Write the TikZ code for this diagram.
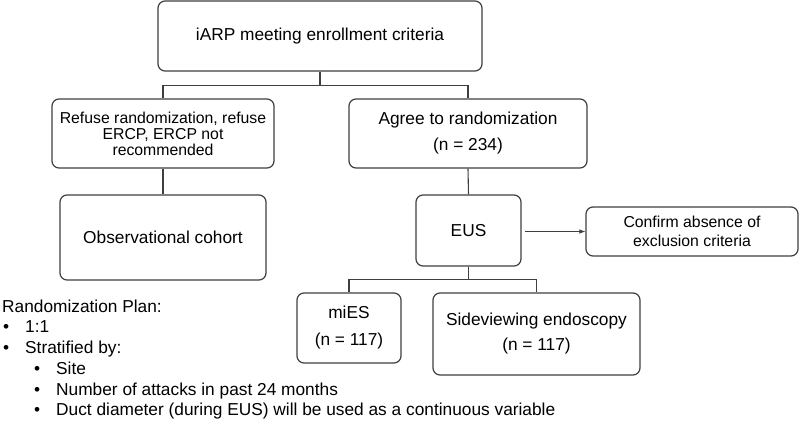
\documentclass[tikz,border=0pt]{standalone}
\usepackage{fontspec}
\setmainfont{Liberation Sans}
\usetikzlibrary{arrows.meta}
\definecolor{ln}{HTML}{3F3F3F}
\begin{document}
\begin{tikzpicture}[x=1pt,y=-1pt,
  box/.style={draw=ln, line width=1.2pt, rounded corners=7pt, align=center, inner sep=0pt, text=black},
  conn/.style={draw=ln, line width=1.1pt},
  txt/.style={inner sep=0pt, anchor=base west, font=\fontsize{17.3}{17}\selectfont}]
\useasboundingbox (0,0) rectangle (800,421);
\node[box, minimum width=324pt, minimum height=70pt, font=\fontsize{17.3}{17}\selectfont] (top) at (320,36) {iARP meeting enrollment criteria};
\node[box, minimum width=222pt, minimum height=69pt, font=\fontsize{15.8}{16}\selectfont] (refuse) at (163,133.5) {Refuse randomization, refuse\\ERCP, ERCP not\\recommended};
\node[box, minimum width=238pt, minimum height=69pt, font=\fontsize{17.3}{26}\selectfont] (agree) at (468,133.5) {Agree to randomization\\(n = 234)};
\node[box, minimum width=206pt, minimum height=85pt, font=\fontsize{17.3}{17}\selectfont] (obs) at (163,237.5) {Observational cohort};
\node[box, minimum width=105pt, minimum height=71pt, font=\fontsize{17.3}{17}\selectfont] (eus) at (468.5,230.5) {EUS};
\node[box, minimum width=212pt, minimum height=49pt, font=\fontsize{15.8}{19}\selectfont] (confirm) at (692,231.5) {Confirm absence of\\exclusion criteria};
\node[box, minimum width=104pt, minimum height=70pt, font=\fontsize{17.3}{27}\selectfont] (mies) at (349,328) {miES\\(n = 117)};
\node[box, minimum width=207pt, minimum height=82pt, font=\fontsize{17.3}{25}\selectfont] (side) at (536.5,334) {Sideviewing endoscopy\\(n = 117)};

\draw[conn] (top.south) -- ++(0,14) -| (refuse.north);
\draw[conn] (top.south) -- ++(0,14) -| (agree.north);
\draw[conn] (refuse.south) -- (obs.north);
\draw[conn] (agree.south) -- (eus.north);
\draw[conn] (eus.south) -- ++(0,13) -| (mies.north);
\draw[conn] (eus.south) -- ++(0,13) -| (side.north);
\coordinate (arrstart) at ([xshift=3pt]eus.east |- confirm.west);
\draw[conn, line width=0.8pt, -{Latex[length=6pt,width=4.5pt]}] (arrstart) -- (confirm.west);

\node[txt] (rp) at (2,312) {Randomization Plan:};
\node[txt] (b1) at (3,332) {\textbullet};
\node[txt] (t1) at (25,332) {1:1};
\node[txt] (b2) at (3,353) {\textbullet};
\node[txt] (t2) at (25,353) {Stratified by:};
\node[txt] (b3) at (34,374) {\textbullet};
\node[txt] (t3) at (56,374) {Site};
\node[txt] (b4) at (34,395) {\textbullet};
\node[txt] (t4) at (56,395) {Number of attacks in past 24 months};
\node[txt] (b5) at (34,415) {\textbullet};
\node[txt] (t5) at (56,415) {Duct diameter (during EUS) will be used as a continuous variable};
\end{tikzpicture}
\end{document}
